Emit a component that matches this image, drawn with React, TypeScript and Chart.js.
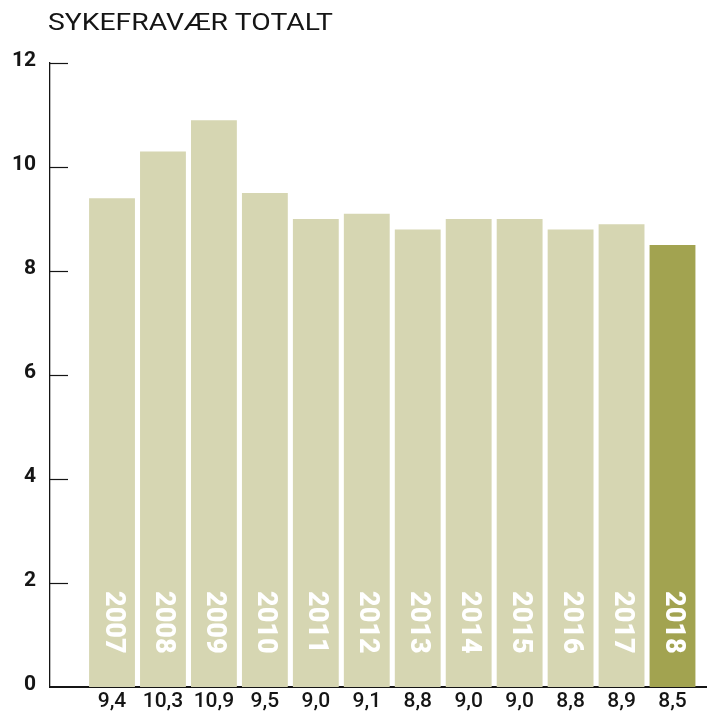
import React, { useEffect, useRef } from "react";
import { Chart, registerables } from "chart.js";

Chart.register(...registerables);

const titleText = "SYKEFRAVÆR TOTALT";
const years = ["2007", "2008", "2009", "2010", "2011", "2012", "2013", "2014", "2015", "2016", "2017", "2018"];
const values = [9.4, 10.3, 10.9, 9.5, 9.0, 9.1, 8.8, 9.0, 9.0, 8.8, 8.9, 8.5];
const valueLabels = ["9,4", "10,3", "10,9", "9,5", "9,0", "9,1", "8,8", "9,0", "9,0", "8,8", "8,9", "8,5"];
const yTicks = [0, 2, 4, 6, 8, 10, 12];

const LIGHT = "#d6d6b2";
const DARK = "#a2a350";
const INK = "#151515";

const overlayPlugin = {
  id: "overlay",
  afterDraw(chart: any) {
    const ctx = chart.ctx;
    const y = chart.scales.y;
    const left = chart.chartArea.left;
    ctx.save();
    // inward tick marks
    ctx.strokeStyle = INK;
    ctx.lineWidth = 1.2;
    yTicks.forEach((v) => {
      if (v === 0) return;
      const py = Math.round(y.getPixelForValue(v)) + 0.5;
      ctx.beginPath();
      ctx.moveTo(left - 1, py);
      ctx.lineTo(left + 18, py);
      ctx.stroke();
    });
    // title
    ctx.fillStyle = INK;
    ctx.font = "400 23px Roboto";
    ctx.textAlign = "left";
    ctx.textBaseline = "alphabetic";
    const w = ctx.measureText(titleText).width;
    ctx.save();
    ctx.translate(48, 29.5);
    ctx.scale(285 / w, 1);
    ctx.fillText(titleText, 0, 0);
    ctx.restore();
    // year labels inside bars
    const meta = chart.getDatasetMeta(0);
    const base = y.getPixelForValue(0);
    ctx.fillStyle = "#ffffff";
    ctx.font = "900 27px Roboto";
    meta.data.forEach((el: any, i: number) => {
      ctx.save();
      ctx.translate(el.x + 3 - 9.5, base - 96);
      ctx.rotate(Math.PI / 2);
      ctx.textAlign = "left";
      ctx.textBaseline = "alphabetic";
      ctx.fillText(years[i], 0, 0);
      ctx.restore();
    });
    ctx.restore();
  },
};

export default function App() {
  const ref = useRef<HTMLCanvasElement | null>(null);
  useEffect(() => {
    if (!ref.current) return;
    const chart = new Chart(ref.current, {
      type: "bar",
      data: {
        datasets: [
          {
            data: values.map((v, i) => ({ x: i, y: v })),
            backgroundColor: (c: any) => (c.dataIndex === values.length - 1 ? DARK : LIGHT),
            barPercentage: 0.9,
            categoryPercentage: 1,
            borderWidth: 0,
          },
        ],
      },
      options: {
        animation: false,
        responsive: false,
        devicePixelRatio: 1,
        layout: { padding: { top: 63, left: 0, right: 0, bottom: 0 } },
        plugins: { legend: { display: false }, tooltip: { enabled: false }, title: { display: false } },
        scales: {
          x: {
            type: "linear",
            offset: false,
            min: -1.217,
            max: 11.677,
            grid: { display: false, drawTicks: false, offset: false },
            border: { display: true, color: INK, width: 2 },
            afterBuildTicks: (s: any) => {
              s.ticks = years.map((_, i) => ({ value: i }));
            },
            afterFit: (s: any) => {
              s.height = 27;
            },
            ticks: {
              autoSkip: false,
              maxRotation: 0,
              padding: 2,
              color: INK,
              font: { family: "Roboto", size: 21, weight: "500" },
              callback: (v: any) => valueLabels[v] ?? "",
            },
          },
          y: {
            min: 0,
            max: 12,
            grid: { display: false, drawTicks: false },
            border: { display: true, color: INK, width: 1.3 },
            afterBuildTicks: (s: any) => {
              s.ticks = yTicks.map((v) => ({ value: v }));
            },
            afterFit: (s: any) => {
              s.width = 50;
            },
            ticks: {
              padding: 14,
              labelOffset: -2,
              color: INK,
              font: { family: "Roboto", size: 21, weight: "bold" },
            },
          },
        },
      },
      plugins: [overlayPlugin],
    } as any);
    return () => chart.destroy();
  }, []);
  return (
    <div style={{ position: "absolute", left: 0, top: 0, width: 707, height: 714, background: "#fff" }}>
      <canvas ref={ref} width={707} height={714} style={{ display: "block" }} />
    </div>
  );
}
